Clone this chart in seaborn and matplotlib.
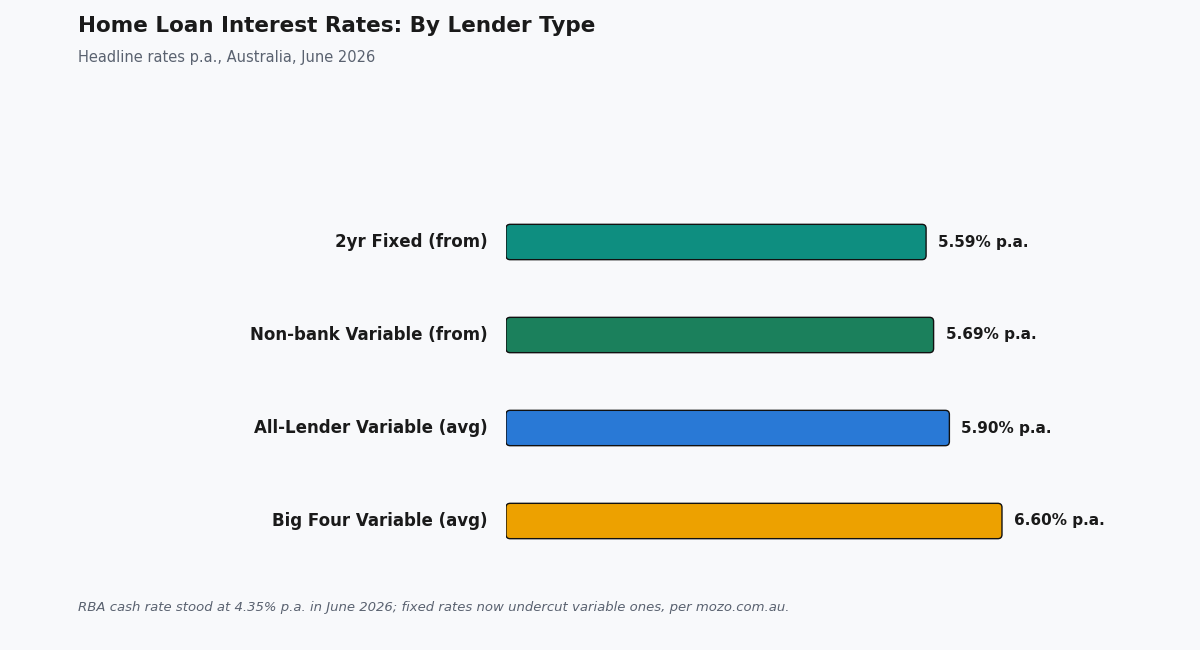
import matplotlib
matplotlib.use("Agg")
import matplotlib.pyplot as plt
import seaborn as sns
import pandas as pd
from matplotlib.patches import FancyBboxPatch

categories = ["2yr Fixed (from)", "Non-bank Variable (from)", "All-Lender Variable (avg)", "Big Four Variable (avg)"]
rates = [5.59, 5.69, 5.90, 6.60]
colors = ["#0E8E80", "#1B805C", "#2979D6", "#EDA100"]

df = pd.DataFrame({"category": categories, "rate": rates})

sns.set_theme(style="white")
plt.rcParams['font.family'] = ['DejaVu Sans']
bg = "#F8F9FB"
fig = plt.figure(figsize=(12, 6.5), dpi=100, facecolor=bg)
W, H = 1200, 650
xmax = 8.0
left_px, top_px, bot_px = 506, 195.5, 567.5
px_per_unit = 75.15
ax = fig.add_axes([left_px / W, 1 - bot_px / H, xmax * px_per_unit / W, (bot_px - top_px) / H])
ax.set_facecolor(bg)

sns.barplot(data=df, y="category", x="rate", hue="category", palette=colors,
            order=categories, width=0.38, legend=False, saturation=1, ax=ax)
ax.set_xlim(0, xmax)
ax.set_ylim(len(categories) - 0.5, -0.5)

aspect = (1 / 93.0) / (1 / px_per_unit)
for p in list(ax.patches):
    x, y = p.get_x(), p.get_y()
    w, h = p.get_width(), p.get_height()
    fc = p.get_facecolor()
    p.remove()
    fb = FancyBboxPatch((x, y), w, h, boxstyle="round,pad=0,rounding_size=0.055",
                        mutation_aspect=aspect, facecolor=fc, edgecolor="#111111",
                        linewidth=1.0, zorder=3)
    ax.add_patch(fb)

for i, v in enumerate(rates):
    ax.text(v + 12 / px_per_unit, i, f"{v:.2f}% p.a.", va="center", ha="left",
            fontsize=11, fontweight="bold", color="#1a1a1a")

ax.set_xlabel("")
ax.set_ylabel("")
ax.set_xticks([])
ax.tick_params(axis="y", length=0, pad=13)
for lab in ax.get_yticklabels():
    lab.set_fontsize(12)
    lab.set_fontweight("bold")
    lab.set_color("#1a1a1a")
    lab.set_verticalalignment("center")
for s in ax.spines.values():
    s.set_visible(False)

fig.text(78 / W, 1 - 26 / H, "Home Loan Interest Rates: By Lender Type", fontsize=15.5,
         fontweight="bold", color="#1a1a1a", ha="left", va="center")
fig.text(78 / W, 1 - 57.5 / H, "Headline rates p.a., Australia, June 2026", fontsize=10.5,
         color="#5a6270", ha="left", va="center")
fig.text(78 / W, 1 - 607 / H,
         "RBA cash rate stood at 4.35% p.a. in June 2026; fixed rates now undercut variable ones, per mozo.com.au.",
         fontsize=9.5, style="italic", color="#5a6270", ha="left", va="center")

fig.savefig("out.png", dpi=100, facecolor=bg)
